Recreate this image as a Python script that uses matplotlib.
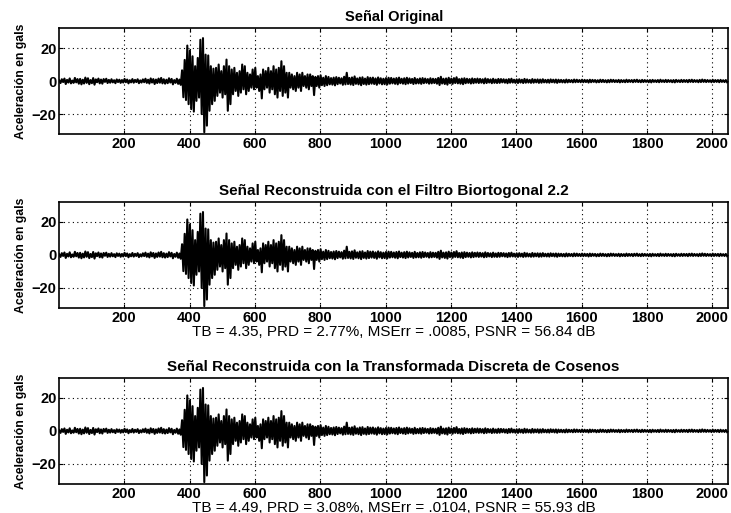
import numpy as np
import matplotlib

matplotlib.use("Agg")
import matplotlib.pyplot as plt

# Acceleration record (gals), one value every 4 samples, samples 1..2045
accel = [
    0.4, -1.2, 1.1, -0.6, 1.5, -1.8, 0.7, -0.9, 1.6, -1.4, 0.3, -1.1, 1.9, -0.8, 1.2, -1.6,
    1.3, -2.0, 0.8, -1.5, 2.1, -1.1, 1.7, -1.9, 0.6, -1.3, 1.8, -2.2, 1.0, -0.7, 1.5, -1.4,
    0.9, -1.6, 1.2, -0.5, 1.4, -1.2, 0.7, -1.0, 1.1, -0.8, 0.5, -1.3, 1.0, -0.6, 0.8, -1.1,
    0.6, -0.9, 1.3, -0.7, 0.9, -1.4, 0.5, -0.8, 1.2, -1.0, 0.7, -0.6, 1.1, -1.3, 0.4, -0.9,
    1.0, -0.7, 1.4, -1.1, 0.8, -1.5, 1.6, -0.9, 1.2, -1.8, 0.9, -1.2, 1.5, -1.0, 1.9, -1.4,
    1.1, -1.6, 0.8, -1.3, 1.7, -0.9, 1.3, -2.0, 0.6, -1.1, 1.4, -1.7, 0.9, -2.3, 6.5, -9.8,
    12.8, -11.5, 21.5, -14.0, 18.5, -17.0, 15.0, -18.5, 9.0, -12.0, 14.0, -10.0, 25.0, -20.0, 26.0, -31.0,
    16.0, -27.0, 15.5, -18.0, 9.0, -14.0, 7.5, -12.0, 8.0, -9.0, 10.0, -7.0, 6.0, -10.0, 9.0, -8.0,
    13.0, -18.0, 9.0, -14.0, 7.0, -8.0, 8.0, -6.0, 5.0, -9.0, 6.0, -7.0, 10.0, -5.0, 9.0, -8.0,
    5.0, -6.0, 4.0, -4.0, 7.0, -5.0, 8.0, -4.0, 3.0, -6.0, 4.0, -10.5, 7.0, -5.0, 6.0, -4.0,
    8.0, -7.0, 6.0, -5.0, 9.0, -8.0, 7.0, -10.0, 8.0, -6.0, 12.0, -9.0, 9.0, -7.0, 5.0, -10.0,
    5.0, -4.0, 4.0, -5.0, 3.0, -6.0, 5.0, -4.0, 4.0, -6.0, 5.0, -3.0, 3.0, -4.0, 4.0, -5.0,
    4.0, -3.0, 3.0, -8.5, 2.5, -3.0, 3.0, -4.0, 3.5, -2.5, 2.0, -3.0, 3.0, -2.5, 2.5, -2.0,
    1.8, -2.2, 2.1, -2.6, 2.4, -1.9, 2.0, -1.5, 1.7, -2.3, 2.6, -2.0, 5.0, -1.8, 1.9, -2.1,
    2.2, -2.4, 2.8, -1.7, 1.6, -2.0, 2.1, -2.5, 2.3, -1.8, 1.5, -2.2, 2.4, -1.9, 2.0, -1.6,
    2.1, -1.8, 1.6, -2.3, 2.2, -1.5, 1.7, -2.0, 1.4, -1.9, 1.8, -2.1, 2.0, -1.6, 1.9, -1.4,
    1.5, -1.7, 1.8, -2.0, 2.1, -1.3, 1.4, -1.6, 1.7, -1.9, 2.0, -1.5, 1.6, -1.2, 1.3, -1.8,
    1.9, -1.5, 1.2, -1.4, 1.6, -1.7, 1.8, -1.3, 1.5, -1.1, 1.2, -1.6, 1.7, -1.4, 1.4, -1.2,
    1.3, -1.6, 1.9, -2.4, 2.6, -1.5, 1.4, -1.8, 1.6, -2.2, 2.0, -1.3, 1.5, -1.7, 1.8, -1.2,
    2.3, -1.4, 1.2, -1.6, 1.5, -1.9, 1.7, -1.3, 1.4, -1.1, 1.2, -1.5, 1.6, -1.3, 1.3, -1.0,
    1.5, -1.2, 1.3, -1.0, 1.1, -1.4, 1.6, -1.2, 1.2, -0.9, 1.0, -1.3, 1.4, -1.1, 0.9, -1.2,
    1.3, -1.1, 1.2, -0.8, 1.1, -1.0, 0.9, -1.3, 1.2, -1.0, 1.4, -0.9, 0.8, -1.1, 1.0, -1.2,
    1.1, -0.9, 0.8, -1.2, 1.3, -1.0, 1.0, -0.9, 0.7, -1.1, 1.2, -1.0, 0.9, -0.8, 1.0, -1.1,
    0.9, -1.0, 1.1, -0.8, 0.7, -0.9, 0.8, -1.0, 1.0, -0.7, 0.8, -0.9, 0.9, -1.1, 0.8, -0.7,
    0.7, -0.8, 0.6, -0.9, 0.9, -0.8, 0.7, -0.6, 0.6, -0.8, 0.9, -0.7, 0.8, -0.6, 0.6, -0.7,
    0.8, -0.7, 0.7, -0.6, 0.6, -0.9, 0.8, -0.7, 0.7, -0.5, 0.6, -0.8, 0.5, -0.7, 0.8, -0.6,
    0.7, -0.6, 0.5, -0.8, 0.6, -0.7, 0.8, -0.5, 0.7, -0.6, 0.5, -0.6, 0.7, -0.8, 0.6, -0.6,
    0.5, -0.7, 0.8, -0.6, 0.6, -0.5, 0.6, -0.7, 0.7, -0.5, 0.8, -0.6, 0.5, -0.7, 0.7, -0.6,
    0.6, -0.5, 0.5, -0.7, 0.6, -0.8, 0.7, -0.5, 0.5, -0.6, 0.6, -0.7, 0.8, -0.5, 0.5, -0.6,
    0.7, -0.6, 0.6, -0.5, 0.5, -0.7, 0.6, -0.8, 0.7, -0.5, 0.5, -0.6, 0.7, -0.6, 0.6, -0.5,
    0.6, -0.7, 0.7, -0.5, 0.8, -0.6, 0.6, -0.5, 0.5, -0.7, 0.7, -0.6, 0.9, -0.5, 0.7, -0.6,
    0.6, -0.5, 0.5, -0.7, 0.8, -0.6, 0.6, -0.5, 0.6, -0.7, 0.7, -0.5, 0.5, -0.6, 0.6, -0.7,
]
sample_step = 4

titles = [
    "Señal Original",
    "Señal Reconstruida con el Filtro Biortogonal 2.2",
    "Señal Reconstruida con la Transformada Discreta de Cosenos",
]
stats = [
    None,
    "TB = 4.35, PRD = 2.77%, MSErr = .0085, PSNR = 56.84 dB",
    "TB = 4.49, PRD = 3.08%, MSErr = .0104, PSNR = 55.93 dB",
]
xticks = [200, 400, 600, 800, 1000, 1200, 1400, 1600, 1800, 2000]
yticks = [-20, 0, 20]

plt.rcParams["font.family"] = ["Liberation Sans", "DejaVu Sans"]

fig = plt.figure(figsize=(7.31, 5.13), dpi=100)
left, width, height = 0.081, 0.915, 0.206
bottoms = [0.739, 0.400, 0.057]

n = np.arange(1, 1 + sample_step * len(accel), sample_step)
y = np.array(accel)

for bottom, title, stat in zip(bottoms, titles, stats):
    ax = fig.add_axes([left, bottom, width, height])
    ax.plot(n, y, color="black", linewidth=1.5)
    ax.set_xlim(1, 2048)
    ax.set_ylim(-32, 32)
    ax.set_xticks(xticks)
    ax.set_yticks(yticks)
    ax.grid(True, color="black", linestyle=(0, (1, 3)), linewidth=0.8)
    ax.tick_params(direction="in", length=3, width=0.8, top=True, right=True,
                   labelsize=10.5, pad=2)
    for lbl in ax.get_xticklabels() + ax.get_yticklabels():
        lbl.set_fontweight("bold")
    for sp in ax.spines.values():
        sp.set_linewidth(1.2)
    ax.set_title(title, fontsize=10.5 if stat is None else 11, fontweight="bold", pad=5)
    ax.set_ylabel("Aceleración en gals", fontsize=8.8, fontweight="bold", labelpad=3)
    if stat:
        ax.set_xlabel(stat, fontsize=11, labelpad=0)

fig.savefig("out.png", dpi=100, facecolor="white")
